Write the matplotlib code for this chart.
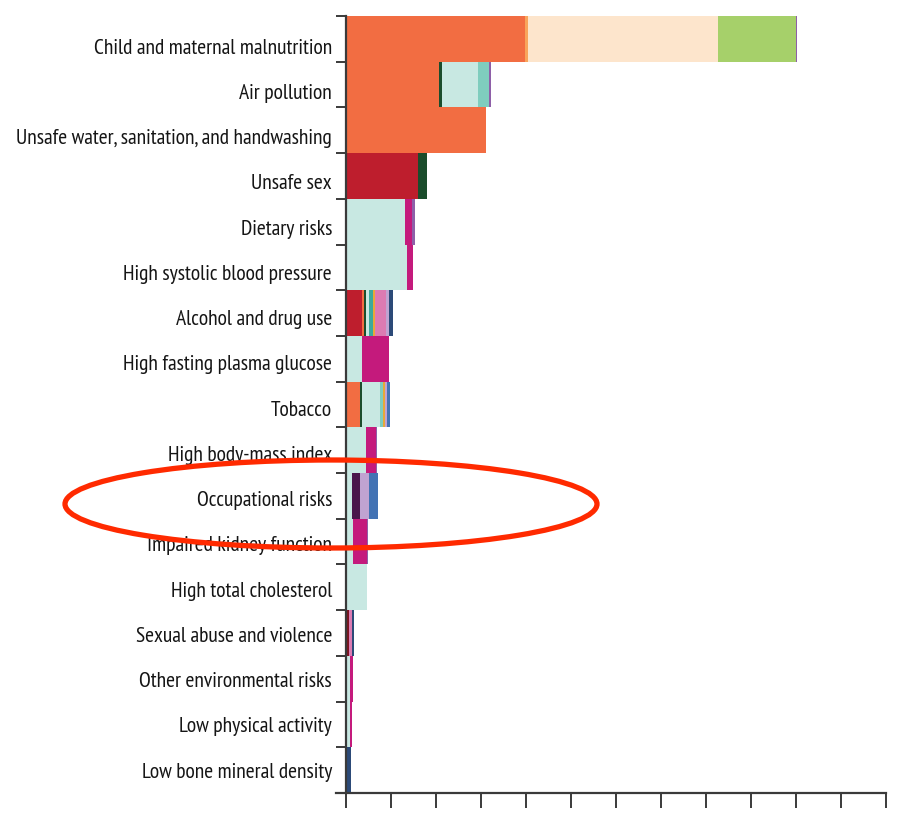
import matplotlib
matplotlib.use("Agg")
import matplotlib.pyplot as plt
import numpy as np
from matplotlib.patches import Ellipse
from matplotlib import font_manager

categories = [
    "Child and maternal malnutrition",
    "Air pollution",
    "Unsafe water, sanitation, and handwashing",
    "Unsafe sex",
    "Dietary risks",
    "High systolic blood pressure",
    "Alcohol and drug use",
    "High fasting plasma glucose",
    "Tobacco",
    "High body-mass index",
    "Occupational risks",
    "Impaired kidney function",
    "High total cholesterol",
    "Sexual abuse and violence",
    "Other environmental risks",
    "Low physical activity",
    "Low bone mineral density",
]

# Stacked segment values per cause group (one value per category, top to bottom)
dark_red     = [0, 0, 0, 0, 0, 0, 0, 0, 0, 0, 0, 0, 0, 0.07, 0, 0, 0]
hiv_tb       = [0, 0, 0, 1.61, 0, 0, 0.35, 0, 0, 0, 0, 0, 0, 0, 0, 0, 0]
resp_diarr   = [3.98, 2.07, 3.11, 0, 0, 0, 0.04, 0, 0.30, 0, 0, 0, 0, 0, 0, 0, 0]
other_inf    = [0.07, 0, 0, 0, 0, 0, 0, 0, 0, 0, 0, 0, 0, 0, 0, 0, 0]
neonatal     = [4.22, 0, 0, 0, 0, 0, 0, 0, 0, 0, 0, 0, 0, 0, 0, 0, 0]
nutritional  = [1.73, 0, 0, 0, 0, 0, 0, 0, 0, 0, 0, 0, 0, 0, 0, 0, 0]
neoplasms    = [0, 0.06, 0, 0.20, 0, 0, 0.06, 0, 0.06, 0, 0, 0, 0, 0, 0, 0, 0]
cardio       = [0, 0.81, 0, 0, 1.31, 1.35, 0.07, 0.36, 0.39, 0.44, 0.13, 0.16, 0.46, 0, 0.09, 0.09, 0]
chronic_resp = [0, 0.24, 0, 0, 0, 0, 0, 0, 0.07, 0, 0, 0, 0, 0, 0, 0, 0]
cirrhosis    = [0, 0, 0, 0, 0, 0, 0.09, 0, 0, 0, 0, 0, 0, 0, 0, 0, 0]
digestive    = [0, 0, 0, 0, 0, 0, 0.03, 0, 0.04, 0, 0, 0, 0, 0, 0, 0, 0]
mental       = [0, 0, 0, 0, 0, 0, 0.25, 0, 0, 0, 0, 0, 0, 0.07, 0, 0, 0]
diabetes_ckd = [0, 0, 0, 0, 0.16, 0.13, 0, 0.59, 0, 0.22, 0, 0.30, 0, 0, 0.07, 0.04, 0]
other_ncd    = [0.03, 0.04, 0, 0, 0.06, 0, 0, 0, 0, 0.04, 0, 0.04, 0, 0, 0, 0, 0]
unintent     = [0, 0, 0, 0, 0, 0, 0, 0, 0, 0, 0.19, 0, 0, 0, 0, 0, 0]
msk          = [0, 0, 0, 0, 0, 0, 0.07, 0, 0.05, 0, 0.19, 0, 0, 0, 0, 0, 0]
transport    = [0, 0, 0, 0, 0, 0, 0, 0, 0.06, 0, 0.20, 0, 0, 0, 0, 0, 0]
violence     = [0, 0, 0, 0, 0, 0, 0.09, 0, 0, 0, 0, 0, 0, 0.04, 0, 0, 0.11]

series = [dark_red, hiv_tb, resp_diarr, other_inf, neonatal, nutritional,
          neoplasms, cardio, chronic_resp, cirrhosis, digestive, mental,
          diabetes_ckd, other_ncd, unintent, msk, transport, violence]
colors = ["#7B1420", "#BE1E2D", "#F26D42", "#F9A45C", "#FDE5CC", "#A6D06A",
          "#1B4D2C", "#C8E8E2", "#7FCDBE", "#3BA99C", "#E8A838", "#DC7BB2",
          "#C41A7C", "#8E5FA8", "#4A154B", "#C0A3D1", "#4373B4", "#2C4A78"]

x_max = 12

avail = {f.name for f in font_manager.fontManager.ttflist}
prefs = ["PT Sans Narrow", "Roboto Condensed", "Fira Sans Condensed",
         "Archivo Narrow", "Open Sans Condensed", "Liberation Sans Narrow", "DejaVu Sans"]
fam = [f for f in prefs if f in avail][:1] + ["DejaVu Sans"]
plt.rcParams['font.family'] = fam

fig = plt.figure(figsize=(9.13, 8.15), dpi=100)
ax = fig.add_axes([346/913, 1-793/815, (886-346)/913, (793-16)/815])

n = len(categories)
y = np.arange(n)
left = np.zeros(n)
for vals, c in zip(series, colors):
    v = np.array(vals, dtype=float)
    ax.barh(y, v, left=left, height=1.0, color=c, linewidth=0)
    left += v

ax.set_xlim(0, x_max)
ax.set_ylim(n - 0.5, -0.5)

ax.spines['top'].set_visible(False)
ax.spines['right'].set_visible(False)
for s in ['left', 'bottom']:
    ax.spines[s].set_color('#3a3a3a')
    ax.spines[s].set_linewidth(1.6)
ax.spines['bottom'].set_bounds(-0.22, x_max)

ax.set_xticks(np.arange(0, x_max + 1, 1))
ax.set_xticklabels([])
ax.tick_params(axis='x', direction='out', length=11, width=1.4, color='#3a3a3a')

ax.set_yticks(np.arange(-0.5, n + 0.5, 1))
ax.set_yticklabels([])
ax.tick_params(axis='y', which='major', direction='out', length=7, width=1.4, color='#3a3a3a')
# labels sit slightly lower than the bar centres near the top, as in the reference
label_pos = y + np.linspace(0.16, 0.0, n)
ax.set_yticks(label_pos, minor=True)
labels = ax.set_yticklabels(categories, minor=True, fontsize=13, color='#151515')
ax.tick_params(axis='y', which='minor', length=0, pad=10)

# fit font size so the longest label spans the same width as in the reference
fig.canvas.draw()
r = fig.canvas.get_renderer()
w = labels[2].get_window_extent(r).width
fs = 13 * (333 - 18) / w
for t in labels:
    t.set_fontsize(fs)

ell = Ellipse((331/913, 1-504/815), 532/913, 88/815, transform=fig.transFigure,
              fill=False, edgecolor='#FF2A00', linewidth=3.8)
fig.add_artist(ell)

fig.savefig("out.png", dpi=100)
